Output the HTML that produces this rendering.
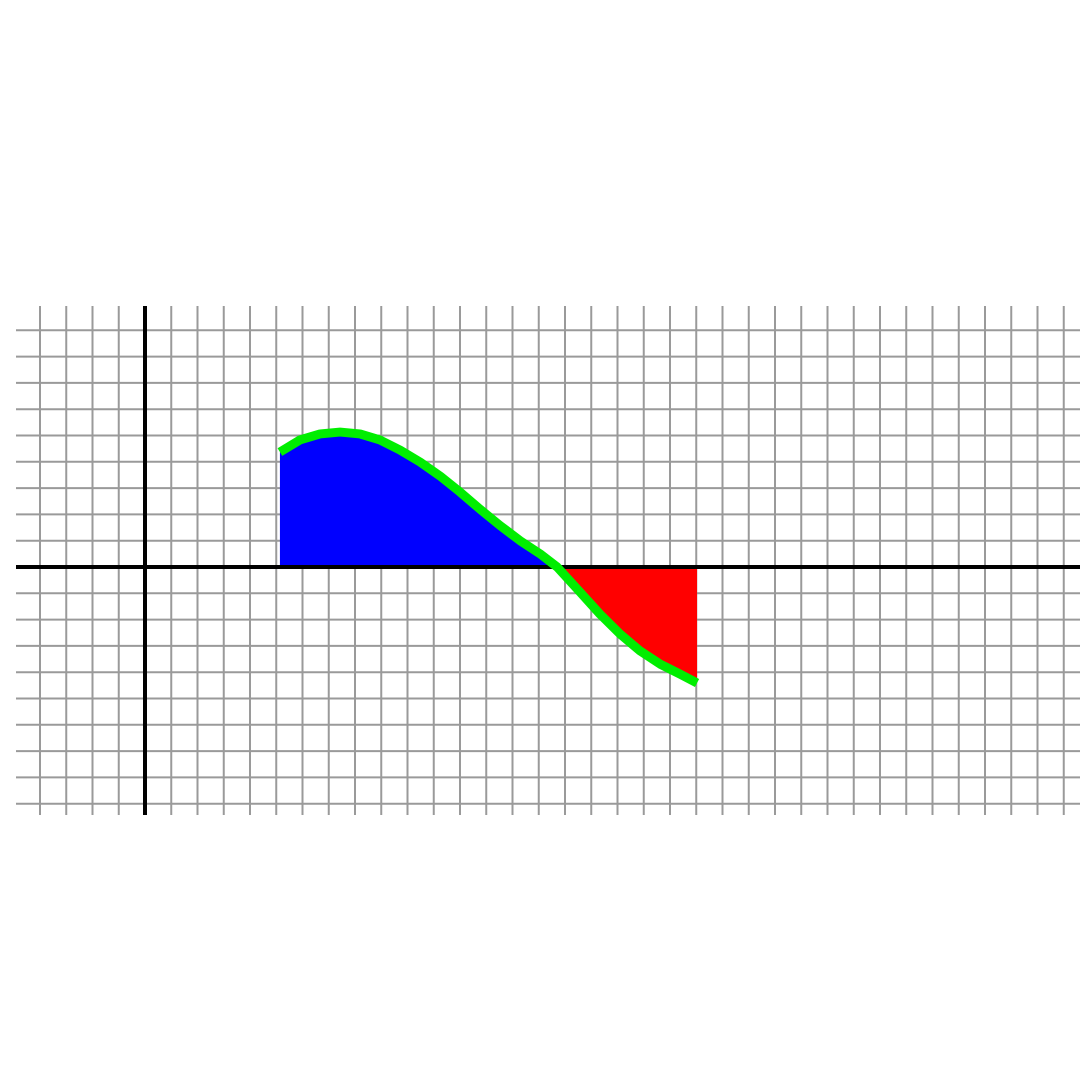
<!DOCTYPE html>
<html><head><meta charset="utf-8"><style>
html,body{margin:0;padding:0;background:#fff;width:1080px;height:1080px;overflow:hidden}
svg{display:block}
</style></head><body>
<svg id="chart" width="1080" height="1080" viewBox="0 0 1080 1080">
<rect x="0" y="0" width="1080" height="1080" fill="#fff"/>
<g id="grid"></g>
<g id="fills"></g>
<g id="axes"></g>
<g id="curve"></g>
</svg>
<script>
const xValues = [5.14,5.9,6.67,7.43,8.19,8.95,9.71,10.48,11.24,12.0,12.76,13.52,14.29,15.05,15.7,16.57,17.33,18.1,18.86,19.62,20.38,21.03];
const yValues = [4.37,4.83,5.06,5.13,5.06,4.83,4.45,3.99,3.46,2.85,2.2,1.58,1.0,0.5,0,-0.95,-1.79,-2.55,-3.19,-3.69,-4.07,-4.41];
const xGridRange = [-5, 35];
const yGridRange = [-9, 10];

const UX = 26.25, UY = 26.3, OX = 145, OY = 567;
const L = 16, R = 1080, T = 306, B = 815;
function sx(v){ return OX + v*UX; }
function sy(v){ return OY - v*UY; }
const NS = "http://www.w3.org/2000/svg";
function mk(tag, attrs, parent){
  const e = document.createElementNS(NS, tag);
  for (const k in attrs) e.setAttribute(k, attrs[k]);
  parent.appendChild(e);
  return e;
}
const grid = document.getElementById('grid');
for (let k = xGridRange[0]; k <= xGridRange[1]; k++){
  const x = sx(k);
  if (x < L || x > R) continue;
  const ln = mk('line', {x1:x, y1:T, x2:x, y2:B, stroke:'#9a9a9a', 'stroke-width':2}, grid);
  
  
}
for (let k = yGridRange[0]; k <= yGridRange[1]; k++){
  const y = sy(k);
  if (y < T - 1 || y > B) continue;
  const ln = mk('line', {x1:L, y1:y, x2:R, y2:y, stroke:'#9a9a9a', 'stroke-width':2}, grid);
  
  
}
const fills = document.getElementById('fills');
let posPts = [], negPts = [];
for (let i = 0; i < xValues.length; i++){
  if (yValues[i] >= 0) posPts.push([xValues[i], yValues[i]]);
  if (yValues[i] <= 0) negPts.push([xValues[i], yValues[i]]);
}
function areaPath(pts){
  let d = 'M' + sx(pts[0][0]) + ',' + sy(0);
  pts.forEach(p => { d += ' L' + sx(p[0]) + ',' + sy(p[1]); });
  d += ' L' + sx(pts[pts.length-1][0]) + ',' + sy(0) + ' Z';
  return d;
}
if (posPts.length){
  const p = mk('path', {d:areaPath(posPts), fill:'#0000ff'}, fills);
  
  
}
if (negPts.length){
  const p = mk('path', {d:areaPath(negPts), fill:'#ff0000'}, fills);
  
  
}
const axes = document.getElementById('axes');
const xa = mk('line', {x1:L, y1:sy(0), x2:R, y2:sy(0), stroke:'#000', 'stroke-width':4}, axes);


const ya = mk('line', {x1:sx(0), y1:T, x2:sx(0), y2:B, stroke:'#000', 'stroke-width':4}, axes);


const curve = document.getElementById('curve');
const pts = xValues.map((x,i) => sx(x) + ',' + sy(yValues[i])).join(' ');
const pl = mk('polyline', {points:pts, fill:'none', stroke:'#00ee00', 'stroke-width':9, 'stroke-linejoin':'round'}, curve);


</script>
</body></html>
